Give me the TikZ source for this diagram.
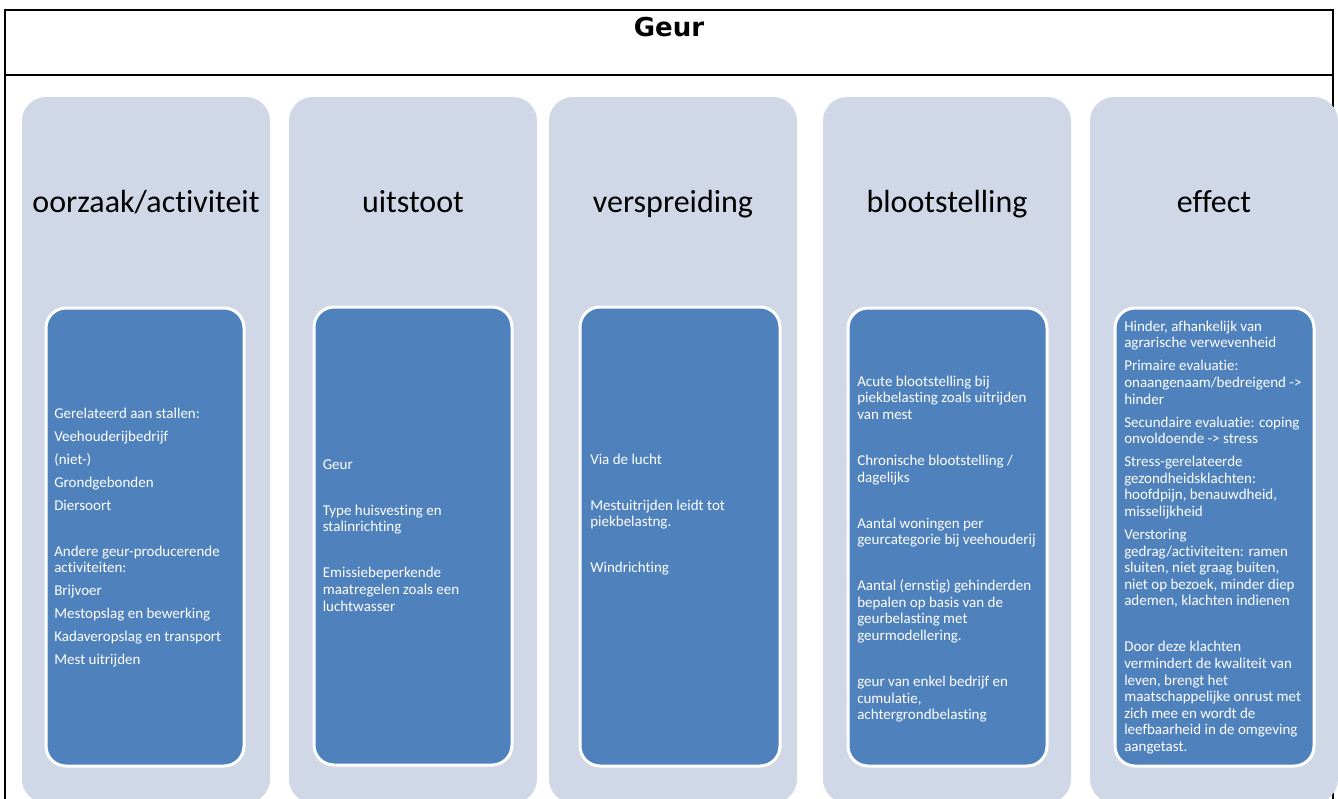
\documentclass[tikz,border=0pt]{standalone}
\usepackage{fontspec}
\setmainfont{Carlito}[Ligatures={NoCommon,NoContextual}]
\newfontfamily\titlefont{DejaVu Sans}
\definecolor{lightbox}{HTML}{D0D8E8}
\definecolor{darkbox}{HTML}{4F81BD}
\newcommand\parbrk{\\[4.8pt]}
\newcommand\dblbrk{\\[22.05pt]}
\newcommand\firstln{\rule{0pt}{9pt}}
\begin{document}
\begin{tikzpicture}[x=0.75pt,y=-0.75pt,
  frame/.style={draw=black,line width=1pt},
  outerbox/.style={fill=lightbox,rounded corners=18pt},
  innerbox/.style={fill=darkbox,draw=white,line width=2.25pt,rounded corners=15pt},
  head/.style={anchor=base,font=\fontsize{24}{28}\selectfont,text=black,inner sep=0pt},
  body/.style={anchor=north west,align=left,inner sep=0pt,text=white,font=\fontsize{11.25}{12.45}\selectfont},
  ]
\useasboundingbox (0,0) rectangle (1338,799);
\clip (0,0) rectangle (1338,799);
\fill[white] (0,0) rectangle (1338,799);
% frame
\draw[frame] (5,830) -- (5,10) -- (1333,10) -- (1333,830);
\draw[frame] (5,75) -- (1333,75);
\node[font=\titlefont\bfseries\fontsize{19.5}{22}\selectfont,anchor=base,inner sep=0pt] (title) at (669,36.5) {Geur};
% outer columns
\path[outerbox] (22,97) rectangle (270,803);
\path[outerbox] (289,97) rectangle (537,803);
\path[outerbox] (549,97) rectangle (797,803);
\path[outerbox] (823,97) rectangle (1071,803);
\path[outerbox] (1090,97) rectangle (1338,803);
% headers
\node[head] (h1) at (146,212) {oorzaak/activiteit};
\node[head] (h2) at (413,212) {uitstoot};
\node[head] (h3) at (673,212) {verspreiding};
\node[head] (h4) at (947,212) {blootstelling};
\node[head] (h5) at (1214,212) {effect};
% inner boxes
\path[innerbox] (46,308) rectangle (244,766);
\path[innerbox] (314,307) rectangle (512,765);
\path[innerbox] (580,307) rectangle (780,766);
\path[innerbox] (848,308) rectangle (1047,766);
\path[innerbox] (1115,308) rectangle (1314,766);
% texts
\node[body] (t1) at (54,406) {\firstln Gerelateerd aan stallen:\parbrk Veehouderijbedrijf\parbrk (niet-)\parbrk Grondgebonden\parbrk Diersoort\dblbrk Andere geur-producerende\\ activiteiten:\parbrk Brijvoer\parbrk Mestopslag en bewerking\parbrk Kadaveropslag en transport\parbrk Mest uitrijden};
\node[body] (t2) at (322.5,457) {\firstln Geur\dblbrk Type huisvesting en\\ stalinrichting\dblbrk Emissiebeperkende\\ maatregelen zoals een\\ luchtwasser};
\node[body] (t3) at (590,452) {\firstln Via de lucht\dblbrk Mestuitrijden leidt tot\\ piekbelastng.\dblbrk Windrichting};
\node[body] (t4) at (857,374) {\firstln Acute blootstelling bij\\ piekbelasting zoals uitrijden\\ van mest\dblbrk Chronische blootstelling /\\ dagelijks\dblbrk Aantal woningen per\\ geurcategorie bij veehouderij\dblbrk Aantal (ernstig) gehinderden\\ bepalen op basis van de\\ geurbelasting met\\ geurmodellering.\dblbrk geur van enkel bedrijf en\\ cumulatie,\\ achtergrondbelasting};
\node[body] (t5) at (1124,319) {\firstln Hinder, afhankelijk van\\ agrarische verwevenheid\parbrk Primaire evaluatie:\\ onaangenaam/bedreigend ->\\ hinder\parbrk Secundaire evaluatie: coping\\ onvoldoende -> stress\parbrk Stress-gerelateerde\\ gezondheidsklachten:\\ hoofdpijn, benauwdheid,\\ misselijkheid\parbrk Verstoring\\ gedrag/activiteiten: ramen\\ sluiten, niet graag buiten,\\ niet op bezoek, minder diep\\ ademen, klachten indienen\dblbrk Door deze klachten\\ vermindert de kwaliteit van\\ leven, brengt het\\ maatschappelijke onrust met\\ zich mee en wordt de\\ leefbaarheid in de omgeving\\ aangetast.};
\end{tikzpicture}
\end{document}
